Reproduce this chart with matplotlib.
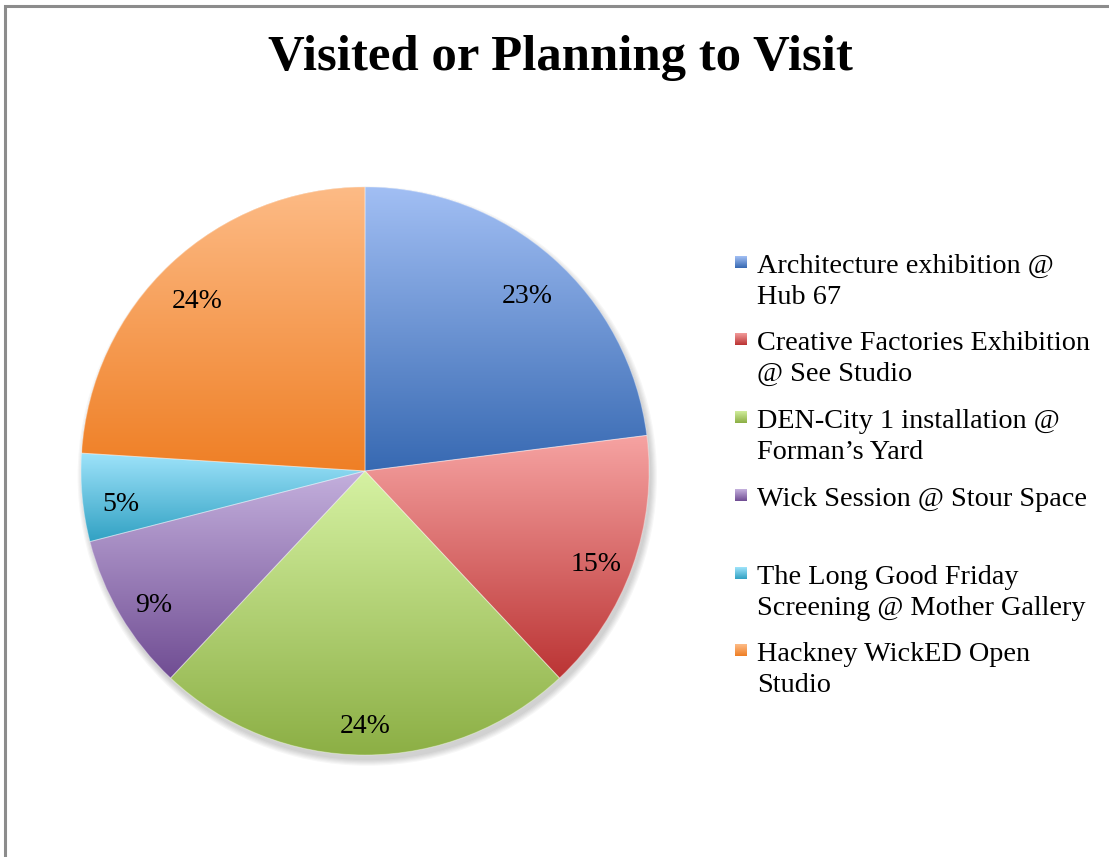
import numpy as np
import matplotlib
matplotlib.use('Agg')
import matplotlib.pyplot as plt
from matplotlib.patches import Rectangle, Circle

# data
labels = ['Architecture exhibition @\nHub 67',
          'Creative Factories Exhibition\n@ See Studio',
          "DEN-City 1 installation @\nForman\u2019s Yard",
          'Wick Session @ Stour Space',
          'The Long Good Friday\nScreening @ Mother Gallery',
          'Hackney WickED Open\nStudio']
shares = [23, 15, 24, 9, 5, 24]

# (top colour, bottom colour) of each slice gradient
top_colors = ['#a2bff4', '#f6a3a2', '#d6f2a3', '#c4b0dd', '#9ee3fa', '#fdbb86']
bottom_colors = ['#3769b2', '#bb3434', '#8caf45', '#704d93', '#31a1c3', '#ef7f25']

plt.rcParams['font.family'] = ['Liberation Serif', 'DejaVu Serif']

fig = plt.figure(figsize=(11.09, 8.57), dpi=100)

# outer frame (runs off the right and bottom edges)
fig.patches.append(Rectangle((5 / 1109, -0.05), 1.2, (857 - 6) / 857 + 0.05,
                             transform=fig.transFigure, fill=False,
                             edgecolor='#8c8c8c', linewidth=2.2))

fig.text(560 / 1109, 1 - 58 / 857, 'Visited or Planning to Visit',
         ha='center', va='center', fontsize=36.5, fontweight='bold')

ax = fig.add_axes([0.03464, 0.06931, 0.58905, 0.76225])


def grad(c1, c2, n=256):
    a = np.array(matplotlib.colors.to_rgb(c1))
    b = np.array(matplotlib.colors.to_rgb(c2))
    t = np.linspace(0, 1, n)[:, None]
    return (a * (1 - t) + b * t)[:, None, :]


# soft shadow
for k in range(6):
    ax.add_patch(Circle((0.008, -0.018), 1.0 + k * 0.004, color='black',
                        alpha=0.03, lw=0, zorder=0))

wedges, texts, autotexts = ax.pie(shares, startangle=90, counterclock=False,
                                  radius=1.0, autopct='%d%%', pctdistance=0.865,
                                  colors=top_colors,
                                  wedgeprops=dict(linewidth=0),
                                  textprops=dict(fontsize=20, color='black'))

for w, c1, c2 in zip(wedges, top_colors, bottom_colors):
    v = w.get_path().vertices
    x0, x1 = v[:, 0].min(), v[:, 0].max()
    y0, y1 = v[:, 1].min(), v[:, 1].max()
    im = ax.imshow(grad(c1, c2), extent=(x0, x1, y0, y1), origin='upper',
                   aspect='auto', zorder=2, interpolation='bilinear')
    im.set_clip_path(w)

# thin light seams between slices
ax.pie(shares, startangle=90, counterclock=False, radius=1.0,
       wedgeprops=dict(fill=False, edgecolor=(1, 1, 1, 0.35), linewidth=0.7, zorder=3))

for t in autotexts:
    t.set_zorder(5)
    t.set_y(t.get_position()[1] - 0.035)

ax.set_xlim(-1.15, 1.15)
ax.set_ylim(-1.15, 1.15)
ax.set_aspect('equal')
ax.axis('off')

# legend drawn by hand so the entries sit on fixed rows
row_y = [262, 339, 417, 495, 573, 650]
for lab, y, c1, c2 in zip(labels, row_y, top_colors, bottom_colors):
    lax = fig.add_axes([735 / 1109, 1 - (y + 6) / 857, 12 / 1109, 12 / 857])
    lax.imshow(grad(c1, c2, 32), aspect='auto', origin='upper')
    lax.axis('off')
    fig.text(757 / 1109, 1 - (y - 8) / 857, lab, ha='left', va='top',
             fontsize=20.3, linespacing=1.32)

fig.savefig('out.png', dpi=100)
